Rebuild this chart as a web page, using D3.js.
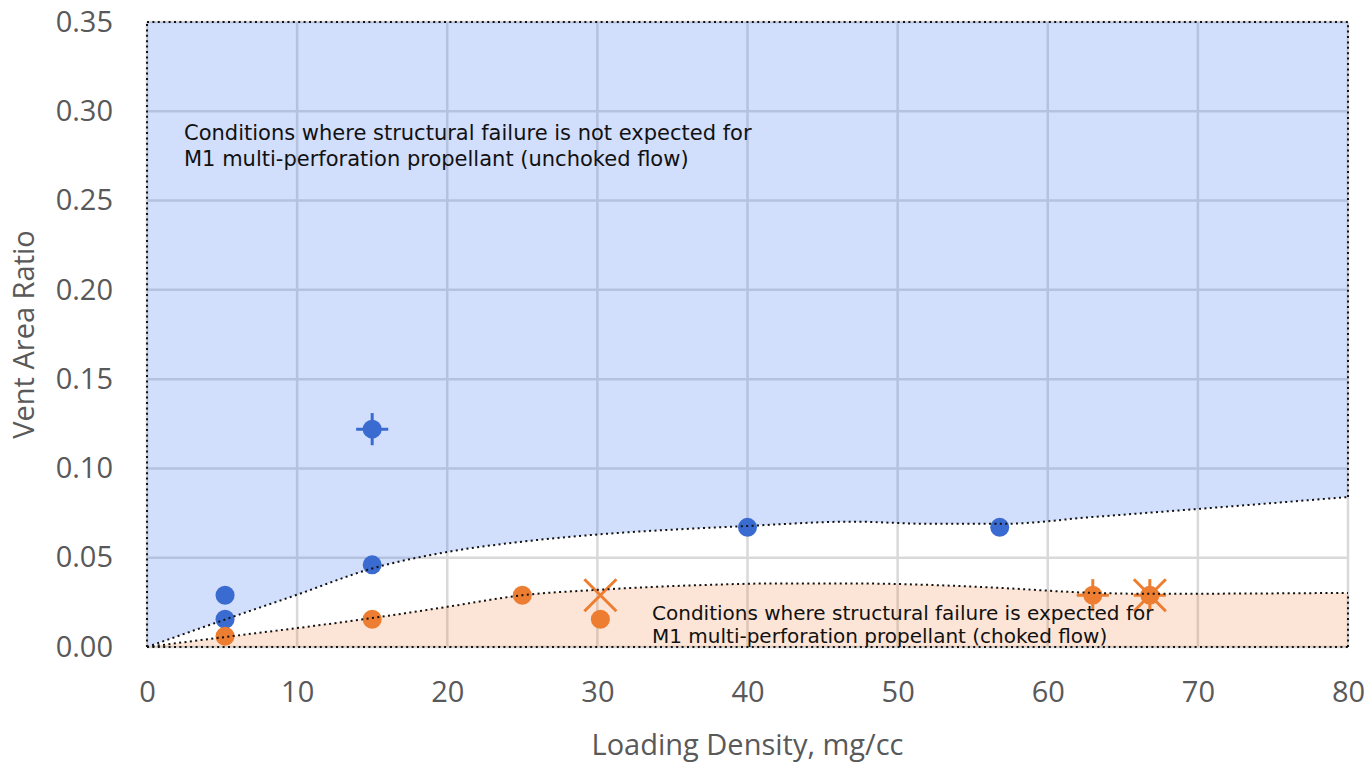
<!DOCTYPE html>
<html>
<head>
<meta charset="utf-8">
<script src="https://cdn.jsdelivr.net/npm/d3@7"></script>
<style>
  body { margin: 0; background: #fff; }
  .tick text { font-family: "Open Sans", sans-serif; fill: #595959; }
  .note { font-family: "DejaVu Sans", Verdana, sans-serif; font-size: 21px; fill: #111; }
</style>
</head>
<body>
<svg></svg>
<script>
const width = 1370;
const height = 763;
const margin = { top: 22, right: 22, bottom: 116, left: 147 };

// boundary curves
const upperX = [0, 5, 10, 15, 20, 25, 30, 37, 40, 47, 52, 57, 63, 70, 80];
const upperY = [0, 0.0148, 0.0293, 0.044, 0.0532, 0.059, 0.063, 0.0666, 0.0678, 0.0702, 0.069, 0.069, 0.0728, 0.0773, 0.084];
const lowerX = [0, 5.2, 10, 15, 20, 25, 30, 37, 42, 47, 52, 57, 63, 67, 72, 80];
const lowerY = [0, 0.0056, 0.0106, 0.0162, 0.0225, 0.029, 0.032, 0.0347, 0.0356, 0.0356, 0.0348, 0.033, 0.0303, 0.0298, 0.0299, 0.0303];

// data points
const blueX = [5.2, 5.2, 15, 15, 40, 56.8];
const blueY = [0.029, 0.0155, 0.046, 0.122, 0.067, 0.067];
const orangeX = [5.2, 15, 25, 30.2, 63, 66.8];
const orangeY = [0.006, 0.0155, 0.029, 0.0155, 0.029, 0.029];
// error bars (x, y, xErr, yErr)
const blueErr = [[15, 0.122, 1.07, 0.009]];
const orangeErr = [[63, 0.029, 1.07, 0.009], [66.8, 0.029, 1.07, 0.009]];
// cross markers
const orangeCrossX = [30.2, 66.8];
const orangeCrossY = [0.029, 0.029];

const xTicks = [0, 10, 20, 30, 40, 50, 60, 70, 80];
const yTicks = [0, 0.05, 0.10, 0.15, 0.20, 0.25, 0.30, 0.35];

const blue = "#3a6bd0";
const orange = "#ed7d31";

const svg = d3.select("svg")
  .attr("width", width)
  .attr("height", height);

const x = d3.scaleLinear().domain([0, 80]).range([margin.left, width - margin.right]);
const y = d3.scaleLinear().domain([0, 0.35]).range([height - margin.bottom, margin.top]);

// grid
const grid = svg.append("g").attr("class", "grid");
grid.selectAll(".vx").data(xTicks).enter().append("line")
  .attr("x1", d => x(d)).attr("x2", d => x(d))
  .attr("y1", y(0)).attr("y2", y(0.35))
  .attr("stroke", "#d9d9d9").attr("stroke-width", 2.5);
grid.selectAll(".hy").data(yTicks).enter().append("line")
  .attr("y1", d => y(d)).attr("y2", d => y(d))
  .attr("x1", x(0)).attr("x2", x(80))
  .attr("stroke", "#d9d9d9").attr("stroke-width", 2.5);

const upper = upperX.map((d, i) => [d, upperY[i]]);
const lower = lowerX.map((d, i) => [d, lowerY[i]]);

// regions
const areaTop = d3.area()
  .x(d => x(d[0])).y0(y(0.35)).y1(d => y(d[1]))
  .curve(d3.curveMonotoneX);
const areaBottom = d3.area()
  .x(d => x(d[0])).y0(y(0)).y1(d => y(d[1]))
  .curve(d3.curveMonotoneX);

svg.append("path").datum(upper)
  .attr("d", areaTop)
  .attr("fill", "rgb(70,125,245)").attr("fill-opacity", 0.25);
svg.append("path").datum(lower)
  .attr("d", areaBottom)
  .attr("fill", "rgb(240,125,50)").attr("fill-opacity", 0.2);

// dotted outlines
const dotted = g => g.attr("fill", "none").attr("stroke", "#111")
  .attr("stroke-width", 2).attr("stroke-dasharray", "2 3.4");
const line = d3.line().x(d => x(d[0])).y(d => y(d[1])).curve(d3.curveMonotoneX);

const frame = [
  [[0, 0], [0, 0.35]],
  [[0, 0.35], [80, 0.35]],
  [[80, upperY[upperY.length - 1]], [80, 0.35]],
  [[0, 0], [80, 0]],
  [[80, 0], [80, lowerY[lowerY.length - 1]]]
];
svg.selectAll(".frame").data(frame).enter().append("path")
  .attr("d", d3.line().x(d => x(d[0])).y(d => y(d[1])))
  .call(dotted);

// axes
const xAxis = svg.append("g")
  .attr("transform", `translate(0,${y(0)})`)
  .call(d3.axisBottom(x).tickValues(xTicks).tickSize(0).tickPadding(34).tickFormat(d3.format("d")));
xAxis.select(".domain").remove();
xAxis.selectAll("text").attr("font-size", 29);

const yAxis = svg.append("g")
  .attr("transform", `translate(${x(0)},0)`)
  .call(d3.axisLeft(y).tickValues(yTicks).tickSize(0).tickPadding(34).tickFormat(d3.format(".2f")));
yAxis.select(".domain").remove();
yAxis.selectAll("text").attr("font-size", 29);

svg.append("text")
  .attr("x", (x(0) + x(80)) / 2).attr("y", 755)
  .attr("text-anchor", "middle")
  .attr("font-family", "Open Sans, sans-serif").attr("font-size", 29)
  .attr("fill", "#595959")
  .text("Loading Density, mg/cc");

svg.append("text")
  .attr("transform", `translate(34,${(y(0) + y(0.35)) / 2}) rotate(-90)`)
  .attr("text-anchor", "middle")
  .attr("font-family", "Open Sans, sans-serif").attr("font-size", 29)
  .attr("fill", "#595959")
  .text("Vent Area Ratio");

// error bars
const errBars = (data, color) => {
  data.forEach(e => {
    svg.append("line")
      .attr("x1", x(e[0] - e[2])).attr("x2", x(e[0] + e[2]))
      .attr("y1", y(e[1])).attr("y2", y(e[1]))
      .attr("stroke", color).attr("stroke-width", 3);
    svg.append("line")
      .attr("x1", x(e[0])).attr("x2", x(e[0]))
      .attr("y1", y(e[1] - e[3])).attr("y2", y(e[1] + e[3]))
      .attr("stroke", color).attr("stroke-width", 3);
  });
};
errBars(blueErr, blue);
errBars(orangeErr, orange);

// cross markers
orangeCrossX.forEach((d, i) => {
  const cx = x(d), cy = y(orangeCrossY[i]), s = 16;
  svg.append("path")
    .attr("d", `M${cx - s},${cy - s}L${cx + s},${cy + s}M${cx - s},${cy + s}L${cx + s},${cy - s}`)
    .attr("stroke", orange).attr("stroke-width", 3).attr("fill", "none");
});

// circles
svg.selectAll(".bp").data(blueX).enter().append("circle")
  .attr("cx", d => x(d)).attr("cy", (d, i) => y(blueY[i]))
  .attr("r", 9.5).attr("fill", blue);
svg.selectAll(".op").data(orangeX).enter().append("circle")
  .attr("cx", d => x(d)).attr("cy", (d, i) => y(orangeY[i]))
  .attr("r", 9.5).attr("fill", orange);

// dotted boundary curves drawn over the points, as in the picture
svg.append("path").datum(upper).attr("d", line).call(dotted);
svg.append("path").datum(lower).attr("d", line).call(dotted);

// notes
const note1 = svg.append("text").attr("class", "note").attr("x", 184).attr("y", 140);
note1.append("tspan").attr("x", 184).text("Conditions where structural failure is not expected for");
note1.append("tspan").attr("x", 184).attr("y", 166).text("M1 multi-perforation propellant (unchoked flow)");

const note2 = svg.append("text").attr("class", "note").attr("x", 652).attr("y", 619.5)
  .style("font-size", "20px");
note2.append("tspan").attr("x", 652).text("Conditions where structural failure is expected for");
note2.append("tspan").attr("x", 652).attr("y", 643).text("M1 multi-perforation propellant (choked flow)");
</script>
</body>
</html>
